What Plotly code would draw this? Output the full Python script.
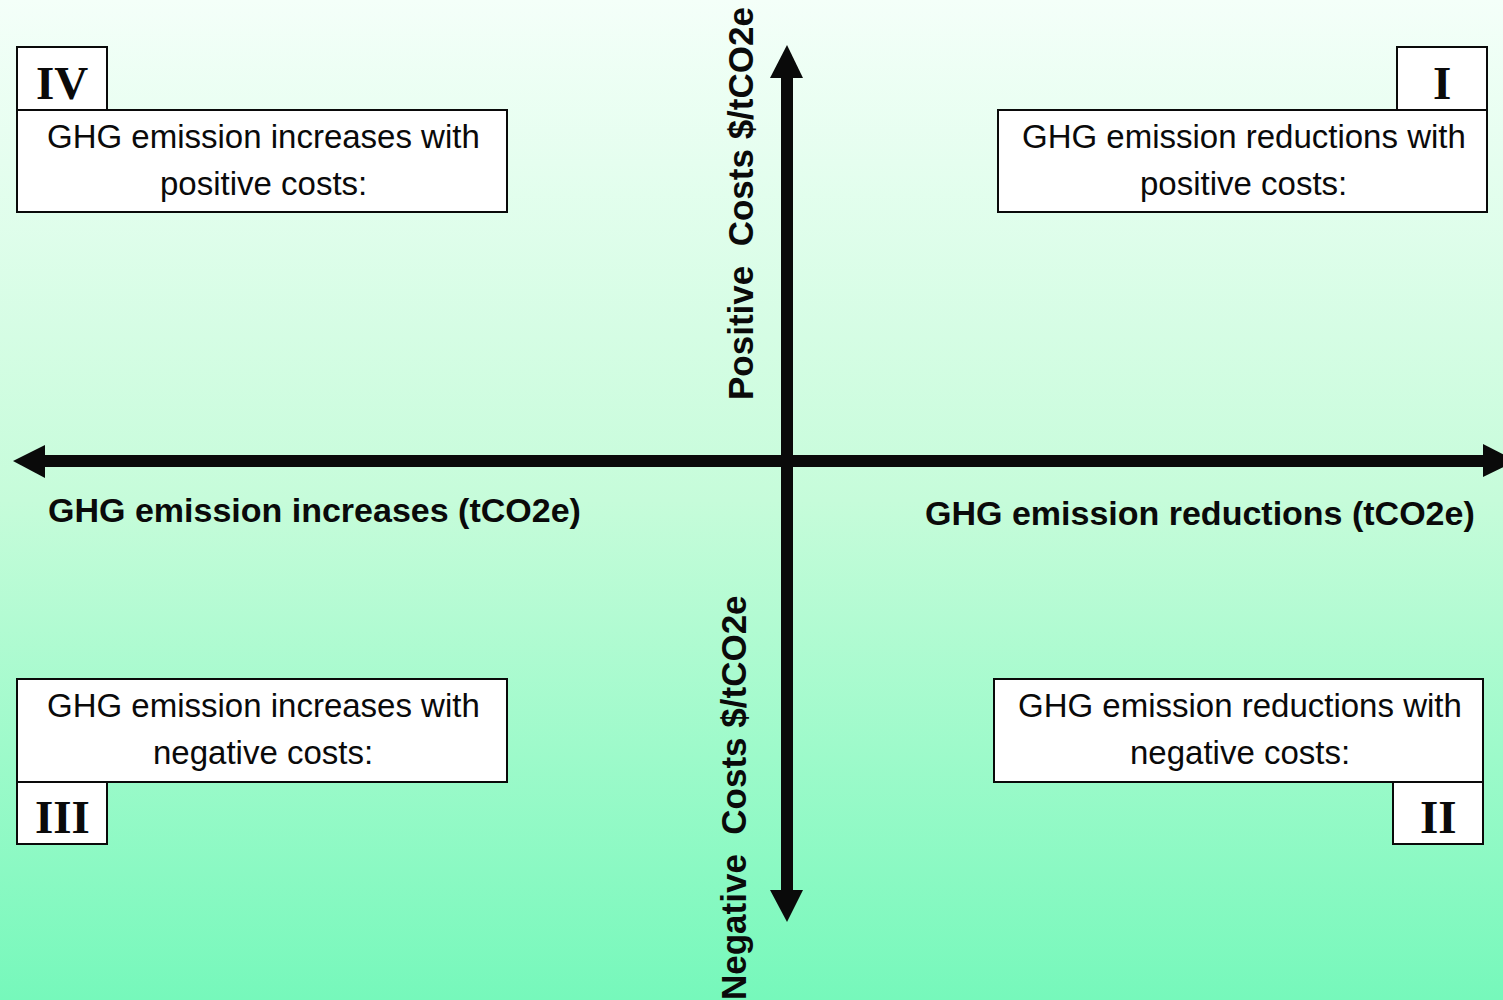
"""Cost/emission quadrant diagram: four labelled quadrant boxes around a
double-headed cross of arrows on a pale-to-mint vertical gradient."""
import plotly.graph_objects as go

W, H = 1503, 1000
INK = "#0a0a0a"
BG_TOP, BG_MID, BG_BOT = "#F4FFF9", "#C6FCDA", "#76F8BB"
SANS = "Liberation Sans, Arial, sans-serif"
SERIF = "Liberation Serif, Times New Roman, serif"

# quadrant content (order: IV, I, III, II)
quadrants = ["IV", "I", "III", "II"]
box_line1 = ["GHG emission increases with", "GHG emission reductions with",
             "GHG emission increases with", "GHG emission reductions with"]
box_line2 = ["positive costs:", "positive costs:", "negative costs:", "negative costs:"]
x_labels = ["GHG emission increases (tCO2e)", "GHG emission reductions (tCO2e)"]
y_labels = ["Positive  Costs $/tCO2e", "Negative  Costs $/tCO2e"]

# box geometry in page pixels: (x0, x1, y0, y1) for text box, then numeral box
boxes = [(17, 507, 110, 212), (998, 1487, 110, 212),
         (17, 507, 679, 782), (994, 1483, 679, 782)]
tags = [(17, 107, 47, 110), (1397, 1487, 47, 110),
        (17, 107, 782, 844), (1393, 1483, 782, 844)]

fig = go.Figure()

# background gradient
fig.add_trace(go.Scatter(
    x=[0, W, W, 0, 0], y=[0, 0, H, H, 0], mode="lines", fill="toself",
    line=dict(width=0), hoverinfo="skip", showlegend=False,
    fillgradient=dict(type="vertical", start=0, stop=H,
                      colorscale=[[0, BG_TOP], [0.5, BG_MID], [1, BG_BOT]])))

shapes = []
# axes: shafts + arrow heads
cx, cy, hw = 787, 461, 6
shapes.append(dict(type="rect", x0=40, x1=1490, y0=cy - hw, y1=cy + hw,
                   fillcolor=INK, line=dict(width=0)))
shapes.append(dict(type="rect", x0=cx - hw, x1=cx + hw, y0=70, y1=895,
                   fillcolor=INK, line=dict(width=0)))
heads = [
    f"M 13 {cy} L 45 {cy - 16} L 45 {cy + 17} Z",
    f"M 1516 {cy} L 1483 {cy - 17} L 1483 {cy + 16} Z",
    f"M {cx} 45 L {cx - 17} 78 L {cx + 16} 78 Z",
    f"M {cx} 922 L {cx - 17} 890 L {cx + 16} 890 Z",
]
for p in heads:
    shapes.append(dict(type="path", path=p, fillcolor=INK, line=dict(width=0)))

ann = []
for i, q in enumerate(quadrants):
    x0, x1, y0, y1 = boxes[i]
    shapes.append(dict(type="rect", x0=x0, x1=x1, y0=y0, y1=y1, fillcolor="white",
                       line=dict(color=INK, width=2)))
    tx0, tx1, ty0, ty1 = tags[i]
    shapes.append(dict(type="rect", x0=tx0, x1=tx1, y0=ty0, y1=ty1, fillcolor="white",
                       line=dict(color=INK, width=2)))
    xm = (x0 + x1) / 2 + 1
    ann.append(dict(x=xm, y=y0 + 26, text=box_line1[i], font=dict(family=SANS, size=33)))
    ann.append(dict(x=xm, y=y0 + 73, text=box_line2[i], font=dict(family=SANS, size=33)))
    ann.append(dict(x=(tx0 + tx1) / 2, y=(ty0 + ty1) / 2 + 4, text=f"<b>{q}</b>",
                    font=dict(family=SERIF, size=47)))

ann.append(dict(x=314, y=510, text=f"<b>{x_labels[0]}</b>", font=dict(family=SANS, size=34)))
ann.append(dict(x=1200, y=513, text=f"<b>{x_labels[1]}</b>", font=dict(family=SANS, size=34)))
ann.append(dict(x=740, y=204, text=f"<b>{y_labels[0]}</b>", textangle=-90,
                font=dict(family=SANS, size=35)))
ann.append(dict(x=733, y=798, text=f"<b>{y_labels[1]}</b>", textangle=-90,
                font=dict(family=SANS, size=35)))
for a in ann:
    a.update(xref="x", yref="y", showarrow=False, xanchor="center", yanchor="middle")
    a["font"]["color"] = INK

fig.update_layout(width=W, height=H, margin=dict(l=0, r=0, t=0, b=0),
                  paper_bgcolor="white", plot_bgcolor="white",
                  shapes=shapes, annotations=ann, showlegend=False)
fig.update_xaxes(range=[0, W], visible=False, fixedrange=True)
fig.update_yaxes(range=[H, 0], visible=False, fixedrange=True)
fig.write_html("out.html", config=dict(displayModeBar=False),
               post_script="document.body.style.margin='0';")
